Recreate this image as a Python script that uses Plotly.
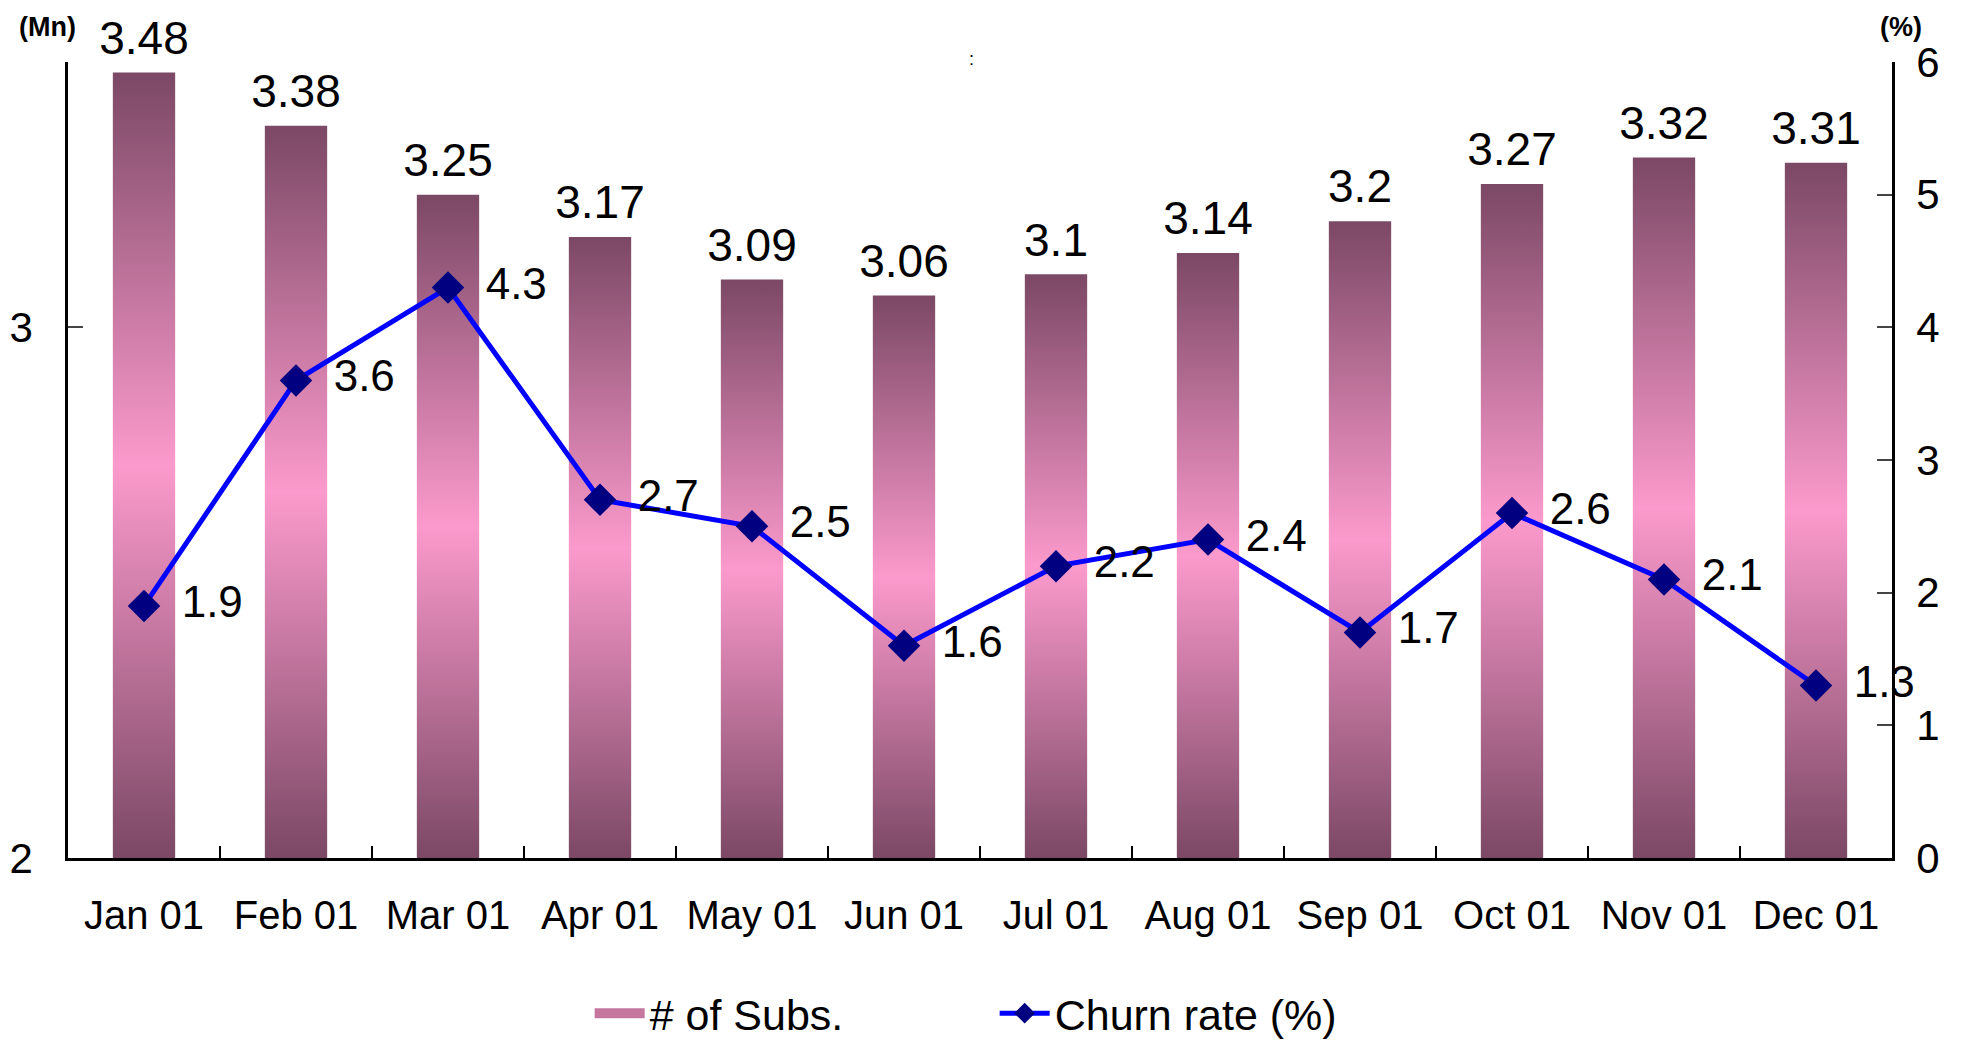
import plotly.graph_objects as go

months = ["Jan 01", "Feb 01", "Mar 01", "Apr 01", "May 01", "Jun 01",
          "Jul 01", "Aug 01", "Sep 01", "Oct 01", "Nov 01", "Dec 01"]
subs = [3.48, 3.38, 3.25, 3.17, 3.09, 3.06, 3.1, 3.14, 3.2, 3.27, 3.32, 3.31]
churn = [1.9, 3.6, 4.3, 2.7, 2.5, 1.6, 2.2, 2.4, 1.7, 2.6, 2.1, 1.3]

DARK = "#7b4865"
PINK = "#fb9acc"
BASE = 2
W = 0.41  # bar width in category units
xs = list(range(len(months)))
FONT = "Liberation Sans, Arial"

fig = go.Figure()

# bars drawn as filled shapes so they can carry a vertical gradient
for i, v in zip(xs, subs):
    fig.add_trace(go.Scatter(
        x=[i - W/2, i + W/2, i + W/2, i - W/2, i - W/2],
        y=[BASE, BASE, v, v, BASE],
        mode="lines", fill="toself",
        line=dict(width=0, color=DARK),
        fillgradient=dict(type="vertical", start=BASE, stop=v,
                          colorscale=[[0, DARK], [0.5, PINK], [1, DARK]]),
        legendgroup="subs", showlegend=False, hoverinfo="skip",
    ))

# legend entry for the bars
fig.add_trace(go.Scatter(x=[None], y=[None], mode="lines", name="# of Subs.",
                         legendgroup="subs", line=dict(color="#c4769e", width=10)))

# bar value labels
fig.add_trace(go.Scatter(
    x=xs, y=subs, mode="markers+text", text=[f"{v:g}" for v in subs],
    textposition="top center", marker=dict(size=10, opacity=0),
    textfont=dict(family=FONT, size=46, color="black"),
    showlegend=False, hoverinfo="skip", cliponaxis=False,
))

fig.add_trace(go.Scatter(
    x=xs, y=churn, yaxis="y2", mode="lines+markers+text",
    name="Churn rate (%)",
    line=dict(color="#0000ff", width=5),
    marker=dict(symbol="diamond", size=25, color="#000080"),
    text=["\u00a0\u2009" + f"{v:g}" for v in churn], textposition="middle right",
    textfont=dict(family=FONT, size=44, color="black"),
    cliponaxis=False,
))

fig.update_layout(
    width=1975, height=1044,
    margin=dict(l=60, r=91, t=54, b=194, autoexpand=False),
    plot_bgcolor="white", paper_bgcolor="white",
    font=dict(family=FONT, color="black"),
    showlegend=True,
    legend=dict(orientation="h", x=0.286, y=-0.195, xanchor="left", yanchor="middle",
                font=dict(family=FONT, size=43), entrywidth=340, itemwidth=50,
                traceorder="normal"),
    xaxis=dict(
        range=[-0.5, 11.5], tickvals=xs, ticktext=months, ticks="",
        showline=True, linecolor="black", linewidth=2.5, showgrid=False, zeroline=False,
        tickfont=dict(size=40), ticklabelstandoff=20, automargin=False,
        minor=dict(tickvals=[i + 0.5 for i in xs[:-1]], ticks="inside", ticklen=12,
                   tickcolor="black", tickwidth=2, showgrid=False),
    ),
    yaxis=dict(
        range=[2, 3.5], tickvals=[2, 3], ticks="inside", ticklen=15, tickwidth=2,
        showline=True, linecolor="black", linewidth=2.5, showgrid=False, zeroline=False,
        tickfont=dict(size=42), ticklabelstandoff=24, automargin=False,
    ),
    yaxis2=dict(
        range=[0, 6], dtick=1, overlaying="y", side="right", ticks="inside",
        ticklen=15, tickwidth=2, showline=True, linecolor="black", linewidth=2.5,
        showgrid=False, zeroline=False, automargin=False,
        tickfont=dict(size=42), ticklabelstandoff=13,
    ),
    annotations=[
        dict(text="<b>(Mn)</b>", x=-0.0115, y=1.044, xref="paper", yref="paper",
             xanchor="center", yanchor="middle", showarrow=False, font=dict(size=27)),
        dict(text="<b>(%)</b>", x=1.0049, y=1.044, xref="paper", yref="paper",
             xanchor="center", yanchor="middle", showarrow=False, font=dict(size=27)),
        dict(text=":", x=0.4953, y=1.004, xref="paper", yref="paper",
             xanchor="center", yanchor="middle", showarrow=False, font=dict(size=18)),
        dict(text="<b>23</b>", x=1.031, y=-0.226, xref="paper", yref="paper",
             xanchor="center", yanchor="top", showarrow=False, font=dict(size=20)),
    ],
)

fig.write_html("out.html")
